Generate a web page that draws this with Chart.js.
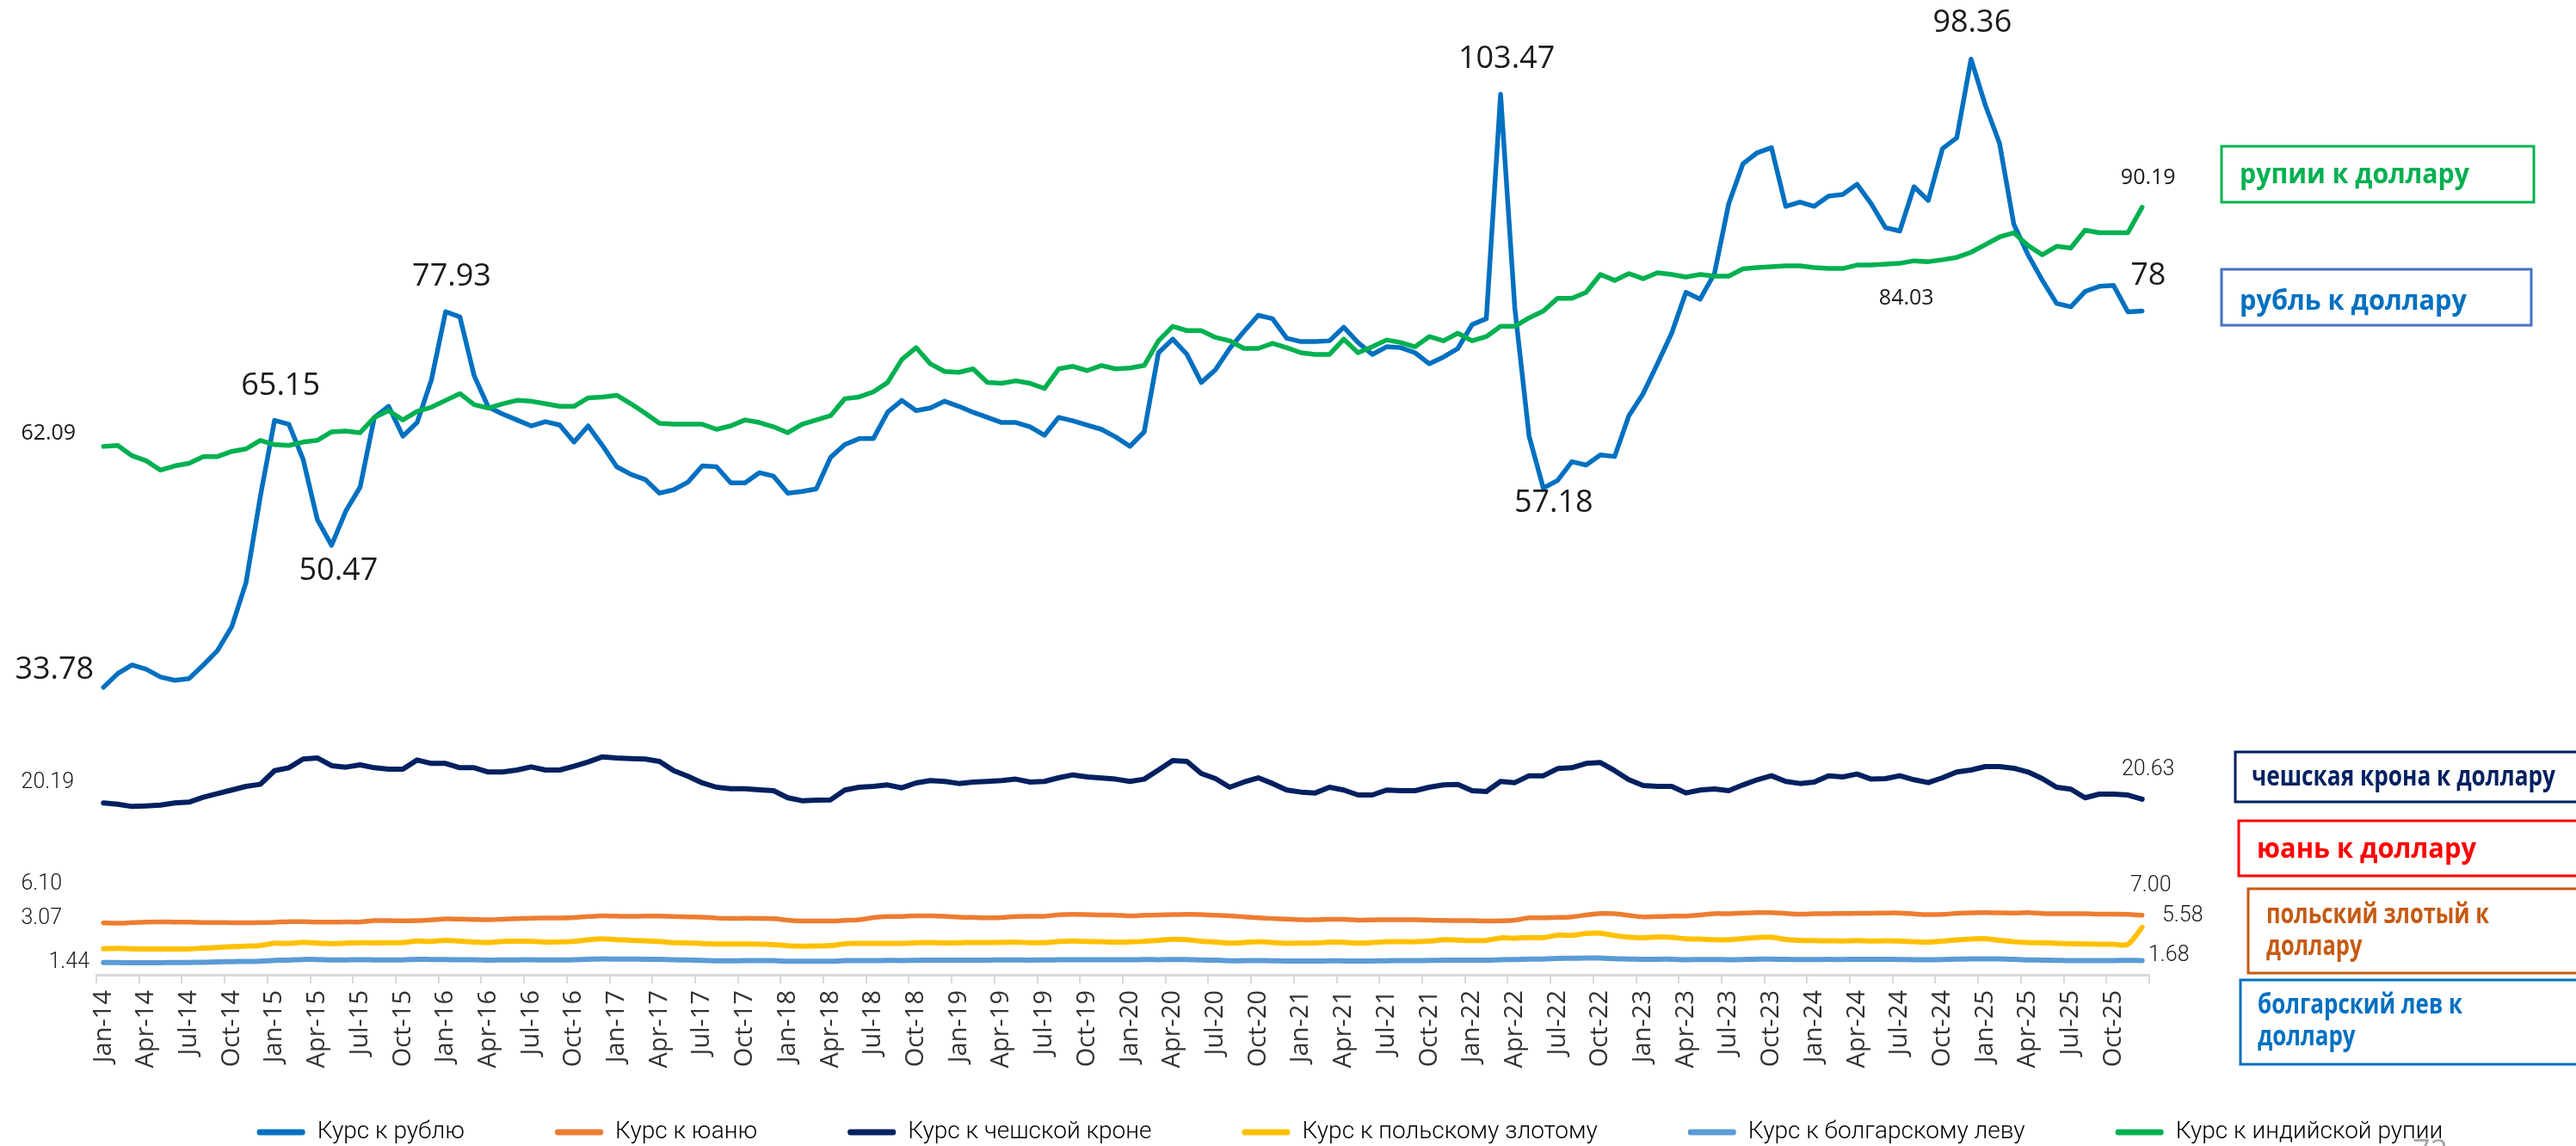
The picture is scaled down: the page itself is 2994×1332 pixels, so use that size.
<!DOCTYPE html>
<html lang="ru">
<head>
<meta charset="utf-8">
<title>Курсы валют к доллару</title>
<script src="https://cdn.jsdelivr.net/npm/chart.js@4.4.1/dist/chart.umd.min.js"></script>
<style>
  html, body { margin: 0; padding: 0; background: #fff; }
  #wrap { position: relative; width: 2994px; height: 1332px; }
</style>
</head>
<body>
<div id="wrap"><canvas id="fx"></canvas></div>
<script>
// ── Categories: monthly, Jan-14 … Dec-25 ────────────────────────────────────
const MONTHS = ['Jan', 'Feb', 'Mar', 'Apr', 'May', 'Jun', 'Jul', 'Aug', 'Sep', 'Oct', 'Nov', 'Dec'];
const YEARS = ['14', '15', '16', '17', '18', '19', '20', '21', '22', '23', '24', '25'];
const LABELS = YEARS.flatMap(y => MONTHS.map(m => `${m}-${y}`));

// ── Series (units of currency per 1 USD) ───────────────────────────────────
const RUB = [
  33.78, 35.4, 36.4, 35.9, 35.0, 34.6, 34.8, 36.4, 38.1, 40.9, 46.1, 56.2,
  65.15, 64.7, 60.6, 53.5, 50.47, 54.5, 57.3, 65.5, 66.8, 63.3, 64.9, 69.9,
  77.93, 77.3, 70.4, 66.7, 65.9, 65.2, 64.5, 65.0, 64.6, 62.6, 64.5, 62.2,
  59.7, 58.8, 58.2, 56.6, 57.0, 57.9, 59.8, 59.7, 57.8, 57.8, 59.0, 58.6,
  56.6, 56.8, 57.1, 60.8, 62.3, 63.0, 63.0, 66.1, 67.5, 66.3, 66.6, 67.4,
  66.8, 66.1, 65.5, 64.9, 64.9, 64.4, 63.4, 65.5, 65.1, 64.6, 64.1, 63.2,
  62.1, 63.8, 73.1, 74.7, 72.9, 69.6, 71.1, 73.6, 75.6, 77.5, 77.1, 74.8,
  74.4, 74.4, 74.5, 76.1, 74.3, 72.9, 73.8, 73.7, 73.1, 71.8, 72.6, 73.6,
  76.4, 77.1, 103.47, 78.3, 63.3, 57.18, 58.1, 60.3, 59.9, 61.1, 60.9, 65.7,
  68.3, 71.8, 75.4, 80.2, 79.4, 82.4, 90.6, 95.3, 96.6, 97.2, 90.3, 90.8,
  90.3, 91.5, 91.7, 92.9, 90.6, 87.8, 87.4, 92.6, 91.0, 97.1, 98.36, 107.6,
  102.2, 97.7, 88.2, 84.6, 81.6, 78.9, 78.5, 80.3, 80.9, 81.0, 77.9, 78
];
const CNY = [
  6.10, 6.06, 6.13, 6.19, 6.21, 6.20, 6.18, 6.15, 6.14, 6.12, 6.12, 6.13,
  6.17, 6.25, 6.24, 6.20, 6.20, 6.21, 6.21, 6.36, 6.37, 6.34, 6.37, 6.45,
  6.56, 6.54, 6.50, 6.47, 6.53, 6.59, 6.66, 6.67, 6.67, 6.73, 6.84, 6.92,
  6.89, 6.87, 6.89, 6.89, 6.86, 6.81, 6.77, 6.66, 6.62, 6.64, 6.62, 6.59,
  6.43, 6.33, 6.32, 6.32, 6.39, 6.47, 6.72, 6.85, 6.86, 6.92, 6.93, 6.88,
  6.78, 6.74, 6.71, 6.73, 6.85, 6.88, 6.88, 7.04, 7.09, 7.07, 7.02, 7.01,
  6.92, 6.99, 7.02, 7.07, 7.10, 7.08, 7.00, 6.93, 6.81, 6.71, 6.61, 6.54,
  6.47, 6.46, 6.51, 6.52, 6.43, 6.45, 6.47, 6.48, 6.46, 6.42, 6.39, 6.37,
  6.36, 6.32, 6.34, 6.42, 6.69, 6.69, 6.74, 6.81, 7.02, 7.20, 7.17, 6.98,
  6.79, 6.86, 6.89, 6.91, 7.02, 7.19, 7.18, 7.25, 7.30, 7.31, 7.21, 7.13,
  7.17, 7.19, 7.20, 7.23, 7.23, 7.26, 7.26, 7.15, 7.07, 7.10, 7.22, 7.29,
  7.31, 7.28, 7.25, 7.30, 7.21, 7.18, 7.17, 7.17, 7.12, 7.12, 7.10, 7.00
];
const CZK = [
  20.19, 20.05, 19.78, 19.85, 19.95, 20.19, 20.29, 20.86, 21.30, 21.71, 22.14, 22.38,
  23.99, 24.33, 25.35, 25.48, 24.57, 24.40, 24.67, 24.33, 24.17, 24.17, 25.24, 24.84,
  24.84, 24.33, 24.33, 23.83, 23.83, 24.06, 24.43, 24.06, 24.06, 24.50, 25.01, 25.61,
  25.48, 25.41, 25.35, 25.08, 23.99, 23.33, 22.55, 22.04, 21.87, 21.87, 21.74, 21.64,
  20.80, 20.46, 20.53, 20.56, 21.71, 22.04, 22.14, 22.31, 21.97, 22.55, 22.82, 22.72,
  22.48, 22.65, 22.72, 22.82, 22.99, 22.65, 22.72, 23.15, 23.49, 23.26, 23.12, 22.99,
  22.72, 22.99, 24.06, 25.18, 25.08, 23.66, 23.05, 22.04, 22.65, 23.15, 22.48, 21.71,
  21.47, 21.37, 22.04, 21.71, 21.13, 21.13, 21.71, 21.64, 21.64, 22.04, 22.31, 22.38,
  21.64, 21.54, 22.72, 22.58, 23.39, 23.39, 24.23, 24.33, 24.84, 24.94, 23.99, 22.92,
  22.24, 22.14, 22.14, 21.37, 21.71, 21.84, 21.64, 22.31, 22.92, 23.39, 22.72, 22.48,
  22.65, 23.39, 23.26, 23.59, 22.99, 23.05, 23.39, 22.92, 22.58, 23.15, 23.83, 24.06,
  24.47, 24.47, 24.27, 23.83, 23.05, 22.04, 21.81, 20.80, 21.23, 21.23, 21.13, 20.63
];
const PLN = [
  3.07, 3.11, 3.05, 3.03, 3.04, 3.04, 3.04, 3.14, 3.20, 3.31, 3.37, 3.44,
  3.71, 3.68, 3.82, 3.71, 3.67, 3.71, 3.76, 3.75, 3.77, 3.80, 3.96, 3.93,
  4.05, 3.94, 3.85, 3.80, 3.93, 3.94, 3.95, 3.85, 3.86, 3.93, 4.11, 4.22,
  4.12, 4.05, 3.99, 3.92, 3.77, 3.75, 3.67, 3.61, 3.62, 3.62, 3.60, 3.55,
  3.41, 3.37, 3.39, 3.43, 3.65, 3.69, 3.70, 3.68, 3.69, 3.76, 3.78, 3.75,
  3.76, 3.80, 3.80, 3.81, 3.85, 3.76, 3.78, 3.91, 3.97, 3.91, 3.88, 3.84,
  3.87, 3.93, 4.05, 4.17, 4.13, 3.95, 3.85, 3.72, 3.79, 3.90, 3.80, 3.70,
  3.72, 3.73, 3.83, 3.82, 3.72, 3.78, 3.89, 3.89, 3.88, 3.96, 4.11, 4.08,
  4.01, 4.05, 4.33, 4.30, 4.37, 4.37, 4.66, 4.63, 4.86, 4.89, 4.61, 4.42,
  4.36, 4.44, 4.40, 4.22, 4.20, 4.11, 4.11, 4.25, 4.38, 4.42, 4.15, 4.05,
  4.01, 4.00, 3.98, 4.01, 3.97, 3.99, 3.96, 3.88, 3.84, 3.96, 4.10, 4.20,
  4.25, 4.05, 3.88, 3.79, 3.76, 3.70, 3.65, 3.62, 3.60, 3.60, 3.58, 5.58
];
const BGN = [
  1.44, 1.43, 1.42, 1.41, 1.42, 1.44, 1.45, 1.47, 1.52, 1.54, 1.57, 1.59,
  1.69, 1.72, 1.80, 1.80, 1.75, 1.75, 1.78, 1.75, 1.74, 1.75, 1.83, 1.80,
  1.80, 1.76, 1.76, 1.73, 1.74, 1.75, 1.77, 1.74, 1.74, 1.77, 1.82, 1.87,
  1.84, 1.84, 1.83, 1.82, 1.77, 1.74, 1.69, 1.65, 1.64, 1.67, 1.67, 1.66,
  1.60, 1.58, 1.59, 1.59, 1.66, 1.68, 1.67, 1.69, 1.68, 1.70, 1.73, 1.72,
  1.71, 1.72, 1.73, 1.74, 1.75, 1.73, 1.74, 1.76, 1.77, 1.77, 1.77, 1.76,
  1.76, 1.79, 1.78, 1.80, 1.79, 1.74, 1.71, 1.65, 1.66, 1.66, 1.65, 1.61,
  1.61, 1.61, 1.64, 1.63, 1.61, 1.62, 1.65, 1.66, 1.66, 1.69, 1.71, 1.73,
  1.73, 1.73, 1.77, 1.80, 1.85, 1.85, 1.92, 1.94, 1.97, 1.98, 1.89, 1.85,
  1.81, 1.83, 1.83, 1.78, 1.80, 1.80, 1.77, 1.79, 1.83, 1.85, 1.81, 1.79,
  1.80, 1.81, 1.80, 1.83, 1.81, 1.82, 1.80, 1.77, 1.76, 1.79, 1.84, 1.87,
  1.88, 1.87, 1.81, 1.74, 1.73, 1.70, 1.67, 1.68, 1.67, 1.68, 1.69, 1.68
];
const INR = [
  62.09, 62.2, 61.0, 60.4, 59.3, 59.8, 60.1, 60.9, 60.9, 61.5, 61.8, 62.8,
  62.3, 62.2, 62.6, 62.8, 63.8, 63.9, 63.7, 65.5, 66.3, 65.2, 66.2, 66.7,
  67.5, 68.3, 67.0, 66.6, 67.1, 67.5, 67.4, 67.1, 66.8, 66.8, 67.8, 67.9,
  68.1, 67.1, 66.0, 64.8, 64.7, 64.7, 64.7, 64.1, 64.5, 65.2, 64.9, 64.4,
  63.7, 64.7, 65.2, 65.7, 67.7, 67.9, 68.5, 69.6, 72.3, 73.7, 71.8, 70.9,
  70.8, 71.2, 69.6, 69.5, 69.8, 69.5, 68.9, 71.2, 71.5, 71.0, 71.6, 71.2,
  71.3, 71.6, 74.5, 76.2, 75.7, 75.7, 74.9, 74.5, 73.6, 73.6, 74.2, 73.7,
  73.1, 72.9, 72.9, 74.7, 73.1, 73.8, 74.6, 74.3, 73.8, 75.0, 74.5, 75.4,
  74.5, 75.0, 76.2, 76.2, 77.2, 78.0, 79.5, 79.5, 80.2, 82.3, 81.6, 82.4,
  81.8, 82.5, 82.3, 82.0, 82.3, 82.1, 82.1, 82.96, 83.1, 83.2, 83.3, 83.3,
  83.1, 83.0, 83.0, 83.4, 83.4, 83.5, 83.6, 83.9, 83.8, 84.03, 84.3, 84.9,
  85.8, 86.7, 87.2, 85.7, 84.6, 85.6, 85.4, 87.5, 87.2, 87.2, 87.2, 90.19
];

const SERIES_NAMES = [
  'Курс к рублю', 'Курс к юаню', 'Курс к чешской кроне',
  'Курс к польскому злотому', 'Курс к болгарскому леву', 'Курс к индийской рупии'
];

// ── Look ────────────────────────────────────────────────────────────────────
const COLORS = ['#0070C0', '#ED7D31', '#002060', '#FFC000', '#5B9BD5', '#00B050'];
const TICK_GREY = '#d9d9d9';
const BIG = "36px 'Open Sans', sans-serif";
const SMALL = "25px 'Open Sans', sans-serif";
const LOW = "300 25px Roboto, sans-serif";

// value callouts: dataset, point index, decimals, offset from the point
const CALLOUTS = [
  { ds: 0, i: 0,   dp: 2, dx: -57, dy: -20, font: BIG },
  { ds: 0, i: 12,  dp: 2, dx: 7,   dy: -40, font: BIG },
  { ds: 0, i: 16,  dp: 2, dx: 8,   dy: 30,  font: BIG },
  { ds: 0, i: 24,  dp: 2, dx: 7,   dy: -40, font: BIG },
  { ds: 0, i: 98,  dp: 2, dx: 7,   dy: -41, font: BIG },
  { ds: 0, i: 101, dp: 2, dx: 12,  dy: 17,  font: BIG },
  { ds: 0, i: 130, dp: 2, dx: 18,  dy: -133, font: BIG },
  { ds: 0, i: 143, dp: 0, dx: 7,   dy: -41, font: BIG },
  { ds: 5, i: 0,   dp: 2, dx: -64, dy: -15, font: SMALL },
  { ds: 5, i: 129, dp: 2, dx: -42, dy: 45,  font: SMALL },
  { ds: 5, i: 143, dp: 2, dx: 7,   dy: -34, font: SMALL },
  { ds: 2, i: 0,   dp: 2, dx: -65, dy: -24, font: LOW },
  { ds: 2, i: 143, dp: 2, dx: 7,   dy: -34, font: LOW },
  { ds: 1, i: 0,   dp: 2, dx: -72, dy: -45, font: LOW },
  { ds: 3, i: 0,   dp: 2, dx: -72, dy: -35, font: LOW },
  { ds: 4, i: 0,   dp: 2, dx: -40, dy: 0,   font: LOW },
  { ds: 1, i: 143, dp: 2, dx: 10,  dy: -34, font: LOW },
  { ds: 3, i: 143, dp: 2, dx: 47,  dy: -13, font: LOW },
  { ds: 4, i: 143, dp: 2, dx: 31,  dy: -6,  font: LOW },
];

// framed captions on the right-hand side
const CAPTIONS = [
  { lines: ['рупии к доллару'], color: '#00B050', stroke: '#00B050', x: 2582, y: 170, w: 363, h: 65, tx: 2603, base: [213], fit: 267 },
  { lines: ['рубль к доллару'], color: '#0070C0', stroke: '#4472C4', x: 2582, y: 313, w: 360, h: 65, tx: 2603, base: [360], fit: 264 },
  { lines: ['чешская крона к доллару'], color: '#002060', stroke: '#002060', x: 2598, y: 874, w: 420, h: 58, tx: 2617, base: [913], fit: 353 },
  { lines: ['юань к доллару'], color: '#FF0000', stroke: '#FF0000', x: 2602, y: 954, w: 420, h: 64, tx: 2623, base: [997], fit: 255 },
  { lines: ['польский злотый к', 'доллару'], color: '#C55A11', stroke: '#C55A11', x: 2613, y: 1033, w: 420, h: 98, tx: 2634, base: [1073, 1110], fit: 259 },
  { lines: ['болгарский лев к', 'доллару'], color: '#0070C0', stroke: '#0070C0', x: 2604, y: 1139, w: 420, h: 98, tx: 2624, base: [1178, 1215], fit: 238 },
];

const LEGEND_CENTER = 1569;   // x of the legend row's middle
const LEGEND_MID = 1316;      // y of the legend text's middle
const LEGEND_FONT = 28;
const LEGEND_GAP = 105;

// ── Plugins ─────────────────────────────────────────────────────────────────
const calloutPlugin = {
  id: 'callouts',
  afterDatasetsDraw(chart) {
    const { ctx } = chart;
    ctx.save();
    ctx.textAlign = 'center';
    ctx.textBaseline = 'middle';
    ctx.fillStyle = '#1a1a1a';
    CALLOUTS.forEach(c => {
      const pt = chart.getDatasetMeta(c.ds).data[c.i];
      const v = chart.data.datasets[c.ds].data[c.i];
      ctx.font = c.font;
      ctx.fillText(v.toFixed(c.dp), pt.x + c.dx, pt.y + c.dy);
    });
    ctx.restore();
  }
};

const captionPlugin = {
  id: 'captions',
  afterDraw(chart) {
    const { ctx } = chart;
    ctx.save();
    ctx.font = "bold 33px 'Open Sans', sans-serif";
    ctx.textBaseline = 'alphabetic';
    CAPTIONS.forEach(b => {
      ctx.strokeStyle = b.stroke;
      ctx.lineWidth = 3;
      ctx.strokeRect(b.x, b.y, b.w, b.h);
      ctx.fillStyle = b.color;
      b.lines.forEach((t, k) => {
        const w = ctx.measureText(t).width;
        const maxW = k === 0 ? b.fit : b.fit * w / ctx.measureText(b.lines[0]).width;
        ctx.fillText(t, b.tx, b.base[k], maxW);
      });
    });
    // page number peeking in at the bottom edge
    ctx.font = "36px 'Open Sans', sans-serif";
    ctx.fillStyle = '#a6a6a6';
    ctx.fillText('72', 2804, 1350);
    ctx.restore();
  }
};

// legend row: centred on the whole slide and placed on its own baseline,
// with wide gaps between entries (the layout only reserves a short strip)
const legendPlace = {
  id: 'legendPlace',
  afterLayout(chart) {
    const lg = chart.legend;
    if (!lg) return;
    const shift = LEGEND_CENTER - (lg.left + lg.right) / 2;
    lg.left += shift;
    lg.right += shift;
    lg.top = LEGEND_MID - LEGEND_GAP - LEGEND_FONT / 2;
    lg.bottom = chart.height;
    lg.height = lg.bottom - lg.top;
  }
};

// ── Chart ───────────────────────────────────────────────────────────────────
const SERIES = [RUB, CNY, CZK, PLN, BGN, INR];
const WIDTHS = [5.5, 5.5, 6, 6, 6, 5.5];
const TENSION = [0, 0.3, 0, 0.3, 0.3, 0];

const datasets = SERIES.map((data, i) => ({
  label: SERIES_NAMES[i],
  data,
  borderColor: COLORS[i],
  backgroundColor: COLORS[i],
  borderWidth: WIDTHS[i],
  tension: TENSION[i],
  pointRadius: 0,
  fill: false,
  borderJoinStyle: 'round',
  borderCapStyle: 'round',
  order: SERIES.length - i,
}));

const tickColor = c => (c.index === undefined || c.index % 3 === 0) ? TICK_GREY : 'rgba(0,0,0,0)';

new Chart(document.getElementById('fx'), {
  type: 'line',
  data: { labels: LABELS, datasets },
  options: {
    responsive: true,
    maintainAspectRatio: false,
    animation: false,
    layout: { padding: { top: 45, left: 0, right: 0, bottom: 0 } },
    plugins: {
      tooltip: { enabled: false },
      legend: {
        position: 'bottom',
        maxHeight: 60,
        labels: {
          boxWidth: 56,
          boxHeight: 7,
          padding: LEGEND_GAP,
          color: '#1a1a1a',
          font: { family: 'Roboto, sans-serif', size: LEGEND_FONT, weight: '300' },
          generateLabels: chart => chart.data.datasets.map((ds, i) => ({
            text: ds.label,
            fillStyle: ds.borderColor,
            strokeStyle: ds.borderColor,
            lineWidth: 0,
            borderRadius: 3,
            hidden: false,
            datasetIndex: i,
          })),
        },
      },
    },
    scales: {
      x: {
        offset: true,
        grid: {
          offset: true,
          drawOnChartArea: false,
          drawTicks: true,
          tickLength: 10,
          lineWidth: 2,
          color: tickColor,
          tickColor: tickColor,
        },
        border: { display: true, color: TICK_GREY, width: 3 },
        ticks: {
          autoSkip: false,
          minRotation: 90,
          maxRotation: 90,
          padding: 8,
          color: '#333',
          font: { family: "'Open Sans', sans-serif", size: 29 },
          callback: (v, i) => (i % 3 === 0 ? LABELS[i] : ''),
        },
        afterFit: s => { s.height = 139; },
      },
      y: {
        min: 0,
        max: 110,
        position: 'left',
        ticks: { display: false },
        grid: { display: false },
        border: { display: false },
        afterFit: s => { s.width = 112; },
      },
      yR: {
        position: 'right',
        ticks: { display: false },
        grid: { display: false },
        border: { display: false },
        afterFit: s => { s.width = 496; },
      },
    },
  },
  plugins: [calloutPlugin, captionPlugin, legendPlace],
});
</script>
</body>
</html>
